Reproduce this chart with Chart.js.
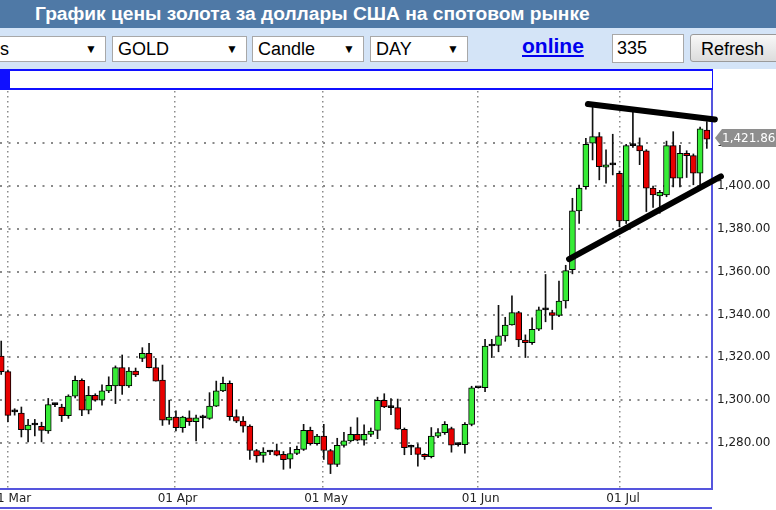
<!DOCTYPE html>
<html>
<head>
<meta charset="utf-8">
<script src="https://cdn.jsdelivr.net/npm/chart.js@4/dist/chart.umd.min.js"></script>
<style>
  body { margin: 0; width: 776px; height: 510px; overflow: hidden; background: #fff; font-family: "Liberation Sans", Arial, sans-serif; position: relative; }
  #hdr { position: absolute; left: 0; top: 0; width: 776px; height: 28px; background: #4f79a6; color: #fff; font-weight: bold; font-size: 19.2px; line-height: 28px; }
  #hdr span { position: absolute; left: 35px; }
  #bar { position: absolute; left: 0; top: 28px; width: 776px; height: 41px; background: #d4e4f7; }
  .sel { position: absolute; top: 8px; height: 24px; background: #fff; border: 1px solid #a8a8a8; font-size: 18px; line-height: 24px; padding-left: 5px; box-sizing: content-box; }
  .sel b { position: absolute; right: 8px; top: 0; font-size: 12px; font-weight: normal; }
  #online { position: absolute; left: 522px; top: 6px; font-size: 21px; font-weight: bold; color: #0000ee; text-decoration: underline; }
  #num { position: absolute; left: 612px; top: 6px; width: 66px; height: 27px; background: #fff; border: 1px solid #a8a8a8; font-size: 18px; line-height: 27px; padding-left: 4px; }
  #refresh { position: absolute; left: 690px; top: 6px; width: 90px; height: 28px; background: linear-gradient(#f8f8f8, #dcdcdc); border: 1px solid #9a9a9a; border-radius: 3px; font-size: 18px; line-height: 28px; padding-left: 10px; box-sizing: border-box; }
  #strip { position: absolute; left: 0; top: 69px; width: 712px; height: 17px; border-top: 2px solid #1010ff; border-bottom: 2px solid #1010ff; border-right: 1px solid #1010ff; background: #fff; }
  #sq { position: absolute; left: 0; top: 0; width: 10px; height: 17px; background: #1010ff; }
  #c { position: absolute; left: 0; top: 90px; }
</style>
</head>
<body>
<div id="hdr"><span>График цены золота за доллары США на спотовом рынке</span></div>
<div id="bar">
  <div class="sel" style="left:-6px;width:105px;">s<b>▼</b></div>
  <div class="sel" style="left:112px;width:128px;">GOLD<b>▼</b></div>
  <div class="sel" style="left:252px;width:105px;">Candle<b>▼</b></div>
  <div class="sel" style="left:370px;width:91px;">DAY<b>▼</b></div>
  <div id="online">online</div>
  <div id="num">335</div>
  <div id="refresh">Refresh</div>
</div>
<div id="strip"><div id="sq"></div></div>
<canvas id="c" width="776" height="420"></canvas>
<script>
// daily OHLC, spot gold in USD
const opens = [
  1320.6,1313.3,1294.5,1294.0,1286.1,1288.4,1287.8,1285.6,1297.9,1296.8,
  1292.8,1301.9,1309.3,1295.3,1302.3,1300.0,1304.3,1306.7,1315.2,1306.7,
  1313.6,1319.5,1321.9,1315.2,1309.4,1290.6,1292.1,1287.1,1291.8,1290.0,
  1291.8,1291.5,1297.2,1304.3,1307.9,1292.3,1290.2,1287.9,1276.5,1274.2,
  1275.8,1276.5,1274.7,1272.4,1275.1,1277.0,1285.9,1279.7,1283.2,1276.5,
  1270.0,1278.9,1281.0,1284.0,1281.3,1284.0,1285.9,1299.9,1296.5,1296.5,
  1286.4,1278.0,1277.8,1274.7,1273.6,1283.2,1284.8,1286.7,1279.2,1279.2,
  1288.7,1305.8,1305.8,1325.3,1325.6,1330.0,1335.1,1340.9,1328.1,1326.9,
  1333.1,1342.2,1340.9,1339.6,1346.3,1361.0,1388.4,1399.7,1420.0,1423.1,
  1408.8,1409.9,1406.0,1383.7,1418.9,1418.9,1416.4,1399.0,1395.4,1395.9,
  1418.9,1403.7,1415.3,1414.2,1406.0,1426.2
];
const highs = [
  1327.6,1314.0,1296.0,1296.8,1291.0,1291.0,1289.7,1300.8,1298.5,1298.1,
  1302.5,1311.3,1310.0,1306.4,1303.0,1307.1,1310.9,1316.0,1321.1,1315.2,
  1315.0,1324.5,1326.5,1319.5,1316.4,1300.0,1295.0,1292.5,1295.0,1293.0,
  1293.0,1303.5,1308.9,1310.8,1309.0,1295.5,1292.3,1288.5,1277.0,1277.8,
  1276.5,1279.5,1276.0,1277.9,1278.6,1288.7,1287.4,1284.0,1288.7,1277.0,
  1282.2,1285.0,1287.4,1291.8,1288.5,1287.0,1301.4,1303.0,1300.7,1300.5,
  1287.0,1279.0,1279.6,1275.0,1287.2,1286.7,1290.0,1287.4,1280.0,1289.5,
  1306.5,1306.0,1328.4,1328.4,1344.3,1338.7,1348.7,1341.5,1330.5,1338.5,
  1343.5,1358.7,1342.0,1355.6,1363.0,1394.3,1400.5,1422.3,1437.9,1425.0,
  1416.9,1424.2,1407.0,1419.5,1436.0,1422.5,1417.0,1400.0,1398.0,1421.0,
  1425.4,1419.0,1416.5,1415.0,1427.5,1430.1
];
const lows = [
  1312.0,1290.0,1293.0,1282.8,1280.5,1283.3,1280.5,1284.5,1297.0,1290.0,
  1291.5,1301.0,1292.7,1293.6,1299.5,1297.7,1303.5,1298.4,1302.7,1306.0,
  1311.0,1318.0,1315.0,1308.9,1288.2,1288.7,1285.6,1285.0,1288.2,1280.9,
  1287.0,1291.0,1297.0,1304.0,1290.6,1289.5,1285.0,1272.3,1271.0,1271.0,
  1274.5,1274.0,1267.7,1268.2,1274.5,1276.5,1279.0,1279.0,1272.3,1265.7,
  1269.0,1278.0,1280.5,1281.0,1279.0,1283.0,1282.0,1296.5,1293.2,1286.4,
  1274.5,1274.5,1269.2,1272.3,1273.0,1282.5,1284.0,1275.7,1278.5,1275.2,
  1288.0,1305.6,1304.0,1319.9,1322.6,1327.5,1335.0,1325.0,1319.9,1326.0,
  1332.5,1336.6,1333.0,1339.0,1343.0,1359.0,1382.6,1398.5,1412.2,1402.9,
  1401.3,1405.2,1381.0,1382.5,1418.0,1410.0,1388.1,1390.0,1387.3,1395.0,
  1399.6,1399.6,1404.0,1400.6,1400.6,1417.6
];
const closes = [
  1313.3,1292.9,1294.5,1286.2,1288.4,1288.4,1285.9,1297.9,1297.9,1292.8,
  1301.9,1309.3,1295.3,1302.3,1300.0,1304.3,1306.9,1315.2,1306.7,1313.6,
  1311.8,1321.9,1315.2,1308.9,1290.6,1292.1,1287.1,1292.1,1290.0,1291.8,
  1291.8,1297.2,1304.3,1307.9,1292.3,1290.2,1287.9,1276.5,1273.9,1275.8,
  1275.8,1274.3,1272.2,1275.1,1277.0,1285.9,1279.7,1283.2,1276.5,1270.0,
  1278.9,1281.0,1284.0,1281.3,1284.0,1285.6,1299.9,1296.8,1296.5,1286.4,
  1277.8,1278.0,1274.7,1273.6,1283.2,1284.8,1288.7,1279.0,1279.2,1288.7,
  1305.8,1305.8,1325.3,1325.3,1330.0,1335.1,1340.9,1328.1,1326.9,1333.1,
  1342.2,1342.2,1339.6,1346.3,1360.5,1388.4,1399.0,1419.5,1423.1,1409.1,
  1409.9,1409.9,1383.7,1418.9,1418.9,1416.4,1399.0,1395.9,1397.1,1418.9,
  1403.7,1415.3,1414.2,1406.0,1426.7,1421.86
];

// x axis: candle index; month labels sit at these index positions
const monthPos = [0.91, 25.8, 47.9, 70.9, 92.1];
const monthLabels = ['01 Mar', '01 Apr', '01 May', '01 Jun', '01 Jul'];
const priceTicks = [1280, 1300, 1320, 1340, 1360, 1380, 1400, 1420];

// hand-drawn trend lines [x1, y1, x2, y2] in candle index / price
const trendLines = [
  [87.3, 1438.3, 106.2, 1431.1],
  [84.5, 1365.9, 107.1, 1404.5]
];

const GREEN = '#36ec36';
const RED = '#e80000';
const FRAME = '#5555dd';

const fmt = v => v.toLocaleString('en-US', {minimumFractionDigits: 2, maximumFractionDigits: 2});

const wicks = opens.map((o, i) => ({x: i, y: [lows[i], highs[i]]}));
const bodies = opens.map((o, i) => ({x: i, y: [Math.min(o, closes[i]), Math.max(o, closes[i])]}));
const bodyColors = opens.map((o, i) => closes[i] > o ? GREEN : (closes[i] < o ? RED : '#000'));

const extras = {
    id: 'extras',
    afterDatasetsDraw(chart) {
        const {ctx, scales: {x, y}} = chart;
        ctx.save();
        ctx.strokeStyle = '#000';
        ctx.lineWidth = 6;
        ctx.lineCap = 'round';
        trendLines.forEach(t => {
            ctx.beginPath();
            ctx.moveTo(x.getPixelForValue(t[0]), y.getPixelForValue(t[1]));
            ctx.lineTo(x.getPixelForValue(t[2]), y.getPixelForValue(t[3]));
            ctx.stroke();
        });
        ctx.restore();
    },
    afterDraw(chart) {
        const {ctx, chartArea: a, scales: {y}} = chart;
        ctx.save();
        // bottom frame line under the date labels
        ctx.strokeStyle = FRAME;
        ctx.lineWidth = 2;
        ctx.beginPath();
        ctx.moveTo(0, a.bottom + 19);
        ctx.lineTo(a.right, a.bottom + 19);
        ctx.stroke();
        // last price tag
        const last = closes[closes.length - 1];
        const py = Math.round(y.getPixelForValue(last)) - 1;
        ctx.fillStyle = '#8e8e8e';
        ctx.beginPath();
        ctx.moveTo(a.right + 3, py);
        ctx.lineTo(a.right + 10, py - 9);
        ctx.lineTo(776, py - 9);
        ctx.lineTo(776, py + 9);
        ctx.lineTo(a.right + 10, py + 9);
        ctx.closePath();
        ctx.fill();
        ctx.fillStyle = '#fff';
        ctx.font = '12px "DejaVu Sans"';
        ctx.textBaseline = 'middle';
        ctx.fillText(fmt(last), a.right + 10, py + 1);
        ctx.restore();
    }
};

new Chart(document.getElementById('c'), {
    type: 'bar',
    data: {
        datasets: [
            {
                data: wicks,
                backgroundColor: '#111',
                barThickness: 1,
                grouped: false,
                order: 2
            },
            {
                data: bodies,
                backgroundColor: bodyColors,
                borderColor: '#000',
                borderWidth: 1,
                borderSkipped: false,
                barThickness: 6,
                minBarLength: 2,
                grouped: false,
                order: 1
            }
        ]
    },
    options: {
        responsive: false,
        animation: false,
        layout: {padding: {top: 1, left: 0, right: 0, bottom: 0}},
        plugins: {legend: {display: false}, tooltip: {enabled: false}},
        scales: {
            x: {
                type: 'linear',
                offset: false,
                min: -0.18,
                max: 105.77,
                afterBuildTicks: s => { s.ticks = monthPos.map(v => ({value: v})); },
                afterFit: s => { s.height = 21; s.paddingLeft = 0; s.paddingRight = 0; },
                ticks: {
                    autoSkip: false,
                    maxRotation: 0,
                    padding: 3,
                    labelOffset: 3,
                    color: '#222',
                    font: {family: 'DejaVu Sans', size: 12},
                    callback: (v, i) => monthLabels[i]
                },
                grid: {offset: false, color: '#8a8a8a', lineWidth: 1.5, drawTicks: false},
                border: {display: true, color: FRAME, width: 2, dash: [1.5, 3.5]}
            },
            y: {
                position: 'right',
                min: 1258.5,
                max: 1444.4,
                afterBuildTicks: s => { s.ticks = priceTicks.map(v => ({value: v})); },
                afterFit: s => { s.width = 64; s.paddingTop = 0; s.paddingBottom = 0; },
                ticks: {
                    padding: 5,
                    color: '#222',
                    font: {family: 'DejaVu Sans', size: 12},
                    callback: v => fmt(v)
                },
                grid: {color: '#8a8a8a', lineWidth: 2, drawTicks: false},
                border: {display: true, color: FRAME, width: 2, dash: [2, 6.5]}
            }
        }
    },
    plugins: [extras]
});
</script>
</body>
</html>
